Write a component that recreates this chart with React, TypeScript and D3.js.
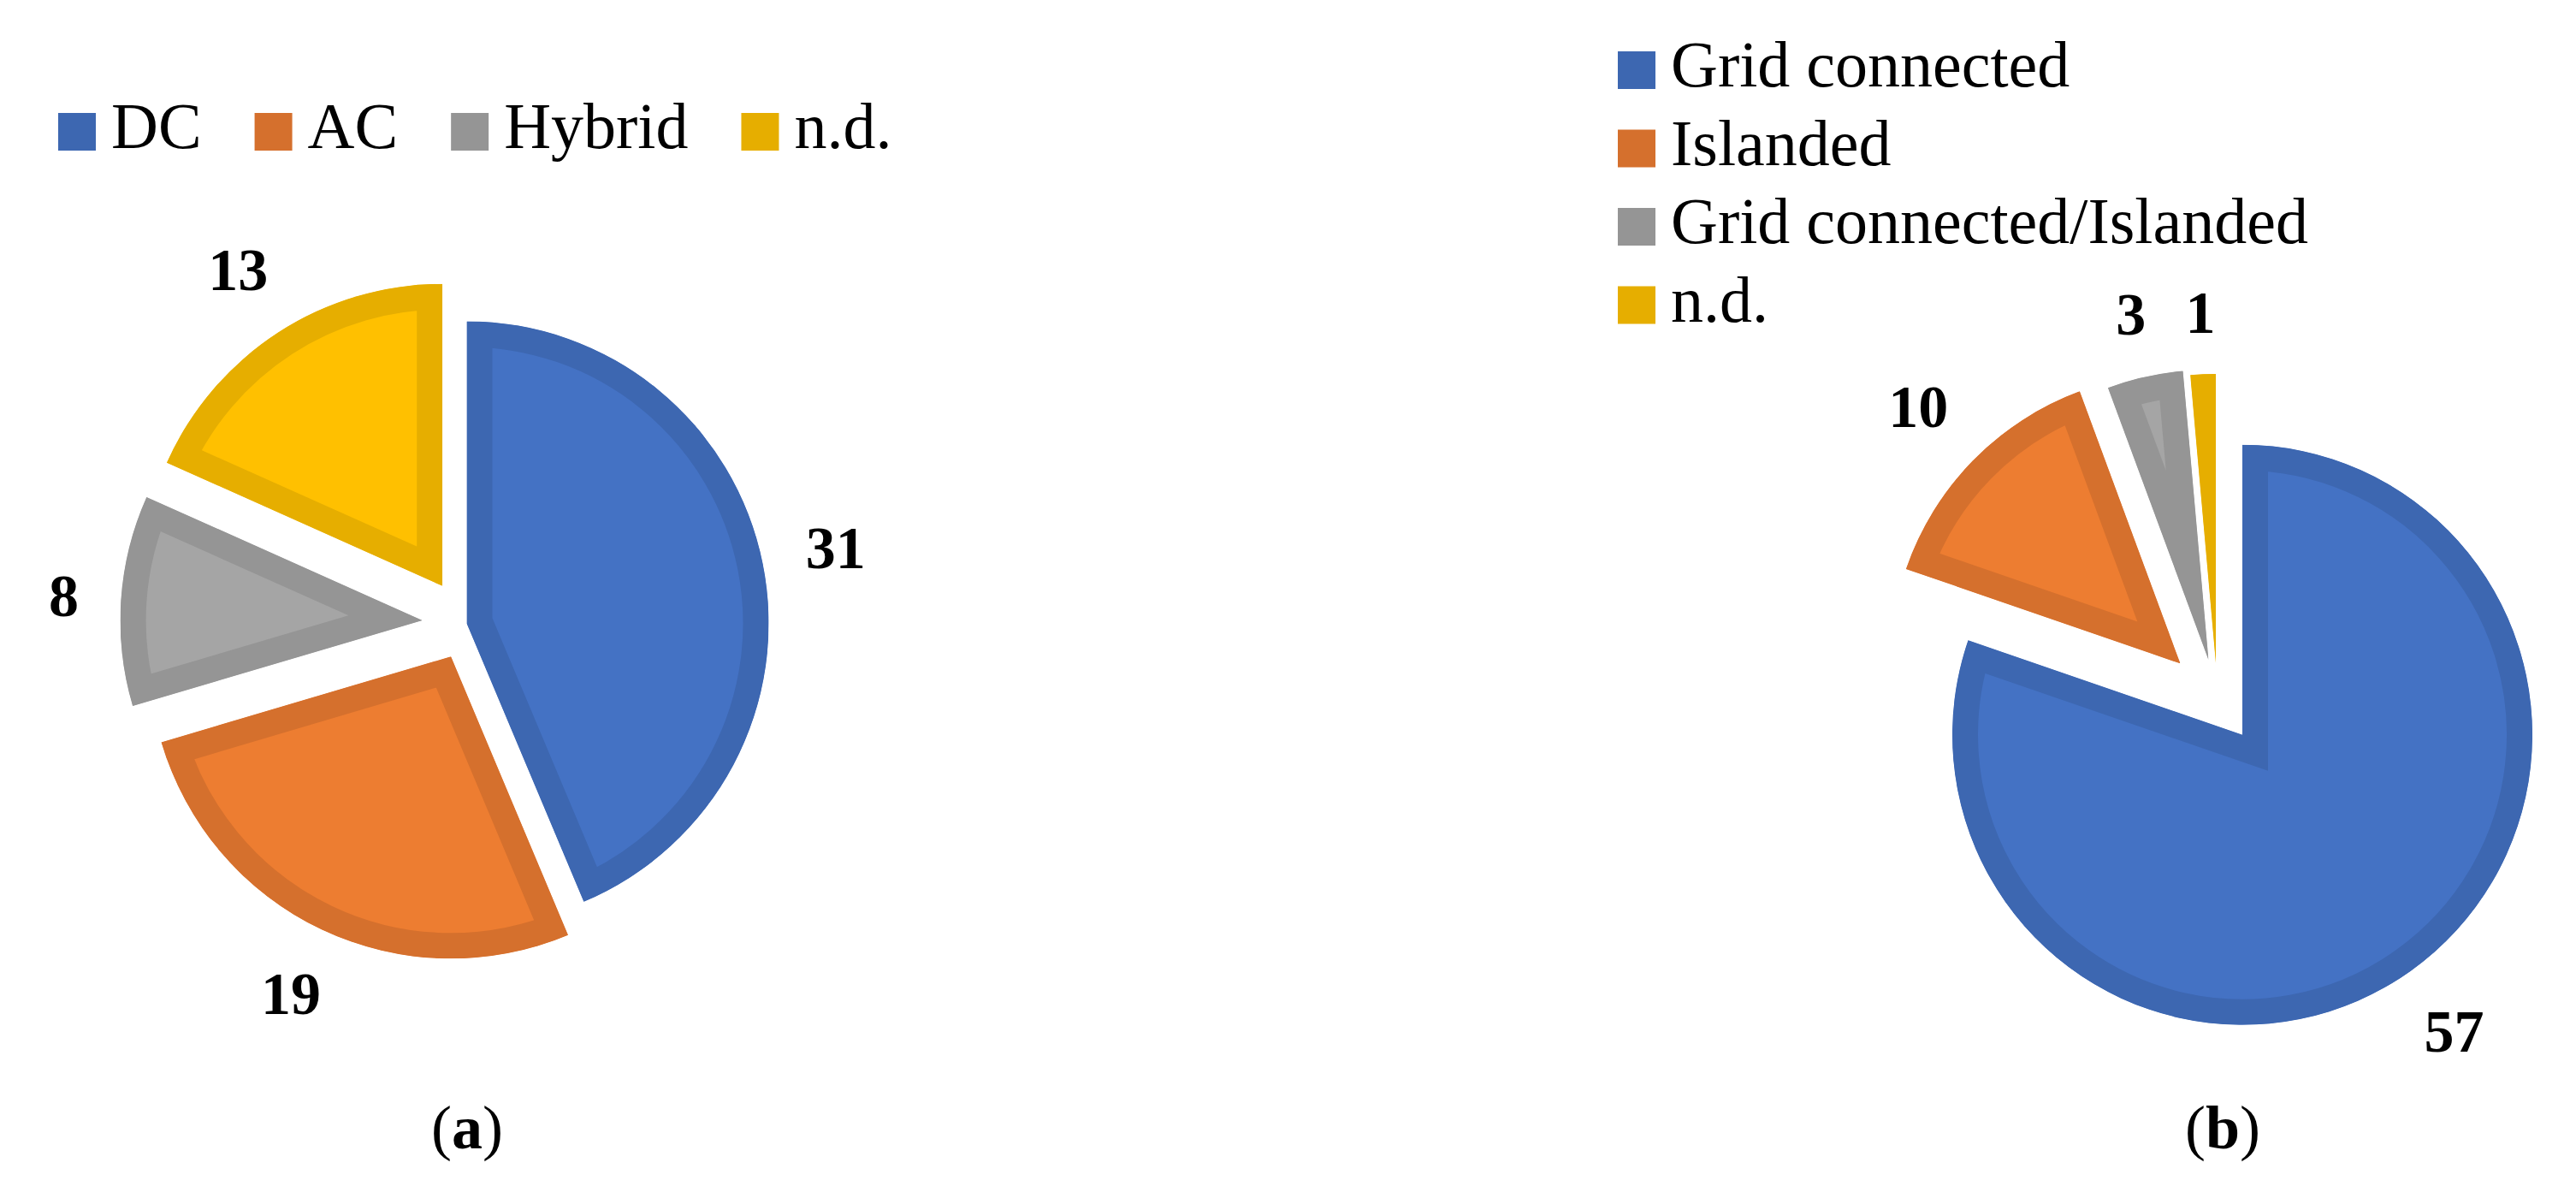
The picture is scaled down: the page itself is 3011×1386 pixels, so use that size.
import React, { useEffect, useRef } from 'react';
import * as d3 from 'd3';

// (a) bus topology, (b) operating mode
const topologyLabels = ['DC', 'AC', 'Hybrid', 'n.d.'];
const topologyCounts = [31, 19, 8, 13];
const modeLabels = ['Grid connected', 'Islanded', 'Grid connected/Islanded', 'n.d.'];
const modeCounts = [57, 10, 3, 1];

const fillColors = ['#4472C4', '#ED7D31', '#A5A5A5', '#FFC000'];
const borderColors = ['#3D67B1', '#D5702D', '#959595', '#E6AE00'];

const W = 3011;
const H = 1386;
const FONT = "'Liberation Serif', 'Times New Roman', serif";
const BAND = 30; // border drawn inside each slice
const LEGEND_SIZE = 76;
const LABEL_SIZE = 70;

const drawPie = (svg, opts) => {
  const { id, labels, values, cx, cy, radius, explode, legend, captionX, captionLetter } = opts;
  const defs = svg.append('defs');
  const g = svg.append('g');

  const slices = d3.pie().sort(null).value((d) => d)(values);
  const arc = d3.arc().innerRadius(0).outerRadius(radius);

  slices.forEach((s, i) => {
    const mid = (s.startAngle + s.endAngle) / 2;
    const ux = Math.sin(mid);
    const uy = -Math.cos(mid);
    const ox = cx + explode[i] * ux;
    const oy = cy + explode[i] * uy;
    const d = arc(s);

    defs.append('clipPath').attr('id', `${id}-clip-${i}`).append('path').attr('d', d);

    const sg = g.append('g').attr('transform', `translate(${ox},${oy})`);
    sg.append('path')
      .attr('d', d)
      .attr('fill', fillColors[i])
      .attr('stroke', borderColors[i])
      .attr('stroke-width', BAND * 2)
      .attr('stroke-linejoin', 'miter')
      .attr('clip-path', `url(#${id}-clip-${i})`);

    // value label outside the slice
    const t = sg.append('text')
      .attr('font-family', FONT)
      .attr('font-size', LABEL_SIZE)
      .attr('font-weight', 'bold')
      .attr('text-anchor', 'middle')
      .attr('fill', '#000')
      .text(values[i]);
    const tw = t.node().getComputedTextLength();
    const th = LABEL_SIZE * 0.66;
    const dist = radius + 48 + Math.abs(ux) * tw / 2 + Math.abs(uy) * th / 2;
    t.attr('x', dist * ux).attr('y', dist * uy + th / 2);
  });

  // legend
  const lg = svg.append('g');
  let x = legend.x;
  let y = legend.y;
  labels.forEach((label, i) => {
    lg.append('rect')
      .attr('x', x)
      .attr('y', y - 22)
      .attr('width', 44)
      .attr('height', 44)
      .attr('fill', borderColors[i]);
    const t = lg.append('text')
      .attr('x', x + 62)
      .attr('y', y + 19)
      .attr('font-family', FONT)
      .attr('font-size', LEGEND_SIZE)
      .attr('fill', '#000')
      .text(label);
    if (legend.horizontal) {
      x += 62 + t.node().getComputedTextLength() + 62;
    } else {
      y += legend.step;
    }
  });

  // caption
  const cap = svg.append('text')
    .attr('x', captionX)
    .attr('y', 1342)
    .attr('text-anchor', 'middle')
    .attr('font-family', FONT)
    .attr('font-size', 72)
    .attr('fill', '#000');
  cap.append('tspan').text('(');
  cap.append('tspan').attr('font-weight', 'bold').text(captionLetter);
  cap.append('tspan').text(')');
};

const App = () => {
  const svgRef = useRef(null);

  useEffect(() => {
    const svg = d3.select(svgRef.current);
    svg.selectAll('*').remove();

    svg.append('rect').attr('width', W).attr('height', H).attr('fill', '#fff');

    drawPie(svg, {
      id: 'a',
      labels: topologyLabels,
      values: topologyCounts,
      cx: 545.5,
      cy: 728.4,
      radius: 353,
      explode: [0, 43, 52, 52],
      legend: { horizontal: true, x: 68, y: 154 },
      captionX: 546,
      captionLetter: 'a',
    });

    drawPie(svg, {
      id: 'b',
      labels: modeLabels,
      values: modeCounts,
      cx: 2592,
      cy: 818,
      radius: 339,
      explode: [50, 61, 48, 42],
      legend: { horizontal: false, x: 1891, y: 82, step: 91.5 },
      captionX: 2598,
      captionLetter: 'b',
    });
  }, []);

  return (
    <svg
      ref={svgRef}
      width={W}
      height={H}
      style={{ position: 'absolute', left: 0, top: 0, display: 'block' }}
    />
  );
};

export default App;
